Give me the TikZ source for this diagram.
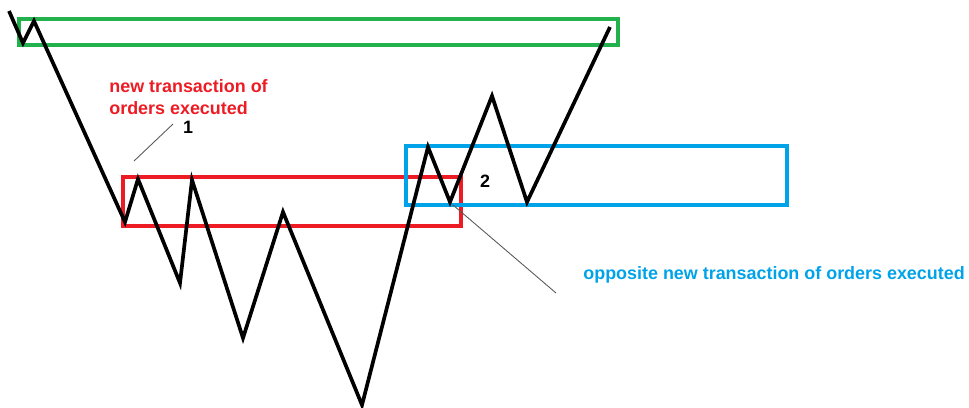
\documentclass[tikz,border=0pt]{standalone}
\usepackage{fontspec}
\setmainfont{Liberation Sans}
\usepackage{tikz}
\usetikzlibrary{positioning}

\definecolor{paintgreen}{RGB}{34,177,76}
\definecolor{paintred}{RGB}{237,28,36}
\definecolor{paintblue}{RGB}{0,162,232}

\begin{document}
\begin{tikzpicture}[x=0.02cm, y=-0.02cm, every node/.style={font=\bfseries\fontsize{10.2}{12.6}\selectfont},
                    zone/.style={line width=2pt},
                    price/.style={line width=2.1pt, line join=miter},
                    pointer/.style={gray!70!black, line width=0.5pt}]
    \useasboundingbox (0,0) rectangle (969,407);
    % zones
    \draw[zone, paintgreen] (19,19) rectangle (618,45);
    \draw[zone, paintred] (123,177) rectangle (461,226);
    \draw[zone, paintblue] (406,146) rectangle (787,205);
    % price swings
    \coordinate (p0) at (9,11);    \coordinate (p1) at (23,43);
    \coordinate (p2) at (34,21);   \coordinate (p3) at (125,222);
    \coordinate (p4) at (138,179); \coordinate (p5) at (180,283);
    \coordinate (p6) at (192,180); \coordinate (p7) at (243,338);
    \coordinate (p8) at (283,212); \coordinate (p9) at (362,405);
    \coordinate (p10) at (428,147);\coordinate (p11) at (450,202);
    \coordinate (p12) at (492,96); \coordinate (p13) at (527,202);
    \coordinate (p14) at (610,27);
    \draw[price] (p0) -- (p1) -- (p2) -- (p3) -- (p4) -- (p5) -- (p6) -- (p7)
        -- (p8) -- (p9) -- (p10) -- (p11) -- (p12) -- (p13) -- (p14);
    % labels
    \node (newtx) [anchor=north west, inner sep=0pt, align=left, text=paintred] at (109,79)
        {new transaction of\\orders executed};
    \node (one) at (188,127) {1};
    \node (two) at (485,181) {2};
    \node (oppositetx) [anchor=west, inner sep=0pt, text=paintblue] at (583,275)
        {opposite new transaction of orders executed};
    \coordinate (oneend) at (134,161);
    \coordinate (twostart) at (453,205);
    \coordinate (twoend) at (556,293);
    \draw[pointer] (173,124) -- (oneend);
    \draw[pointer] (twostart) -- (twoend);
\end{tikzpicture}
\end{document}
